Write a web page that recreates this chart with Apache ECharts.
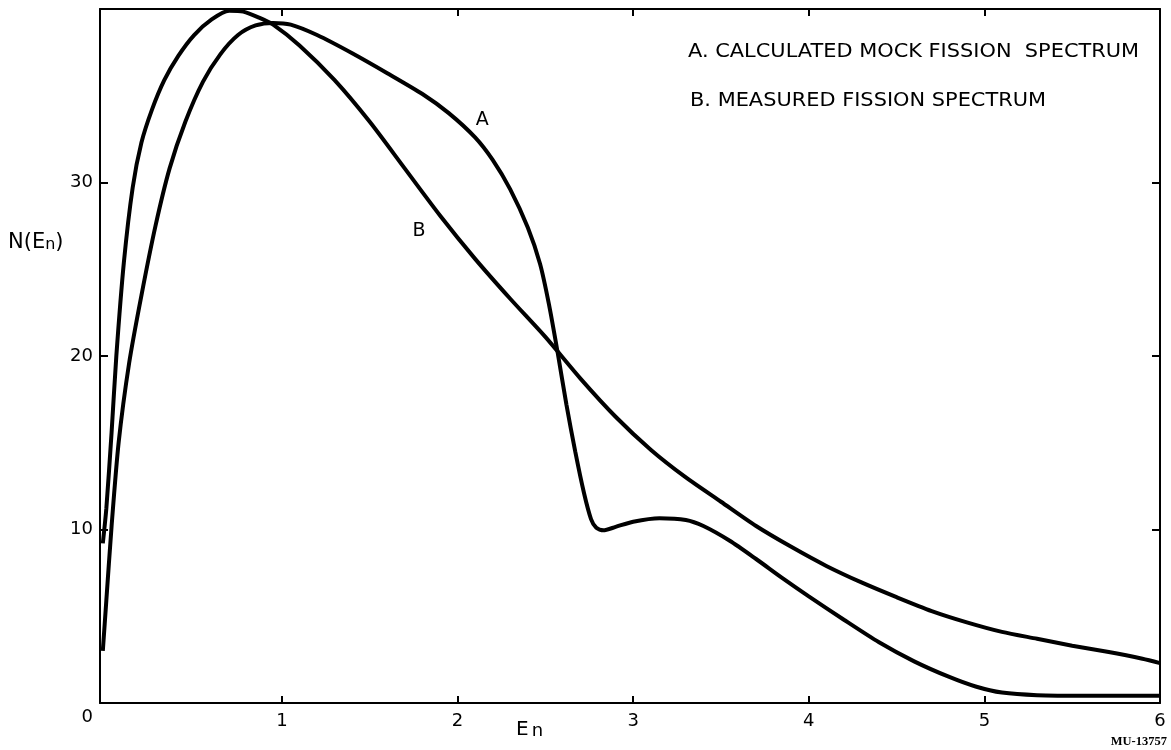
<!DOCTYPE html>
<html>
<head>
<meta charset="utf-8">
<script src="https://cdn.jsdelivr.net/npm/echarts@6/dist/echarts.min.js"></script>
<style>
  html, body { margin: 0; padding: 0; background: #fff; }
  #chart { width: 1171px; height: 750px; }
</style>
</head>
<body>
<div id="chart"></div>
<script>
// ---- Data ----
// x: neutron energy E_n, y: N(E_n)
const curveA_x = [-0.02, 0.0, 0.03, 0.07, 0.13, 0.2, 0.28, 0.36, 0.45, 0.55, 0.65, 0.75, 0.85, 0.95, 1.05, 1.2, 1.4, 1.6, 1.8, 1.95, 2.1, 2.2, 2.3, 2.4, 2.47, 2.52, 2.57, 2.62, 2.67, 2.72, 2.76, 2.79, 2.83, 2.9, 3.0, 3.15, 3.3, 3.4, 3.55, 3.7, 3.85, 4.0, 4.2, 4.4, 4.6, 4.8, 4.95, 5.1, 5.3, 5.6, 6.0];
const curveA_y = [3.0, 5.9, 10.2, 15.0, 19.6, 23.5, 27.5, 30.8, 33.5, 35.8, 37.4, 38.5, 39.05, 39.2, 39.1, 38.5, 37.45, 36.3, 35.1, 34.0, 32.6, 31.3, 29.6, 27.4, 25.3, 23.0, 20.2, 17.2, 14.5, 12.1, 10.6, 10.1, 9.95, 10.15, 10.45, 10.65, 10.55, 10.2, 9.35, 8.3, 7.2, 6.15, 4.8, 3.5, 2.4, 1.5, 0.95, 0.6, 0.45, 0.42, 0.42];

const curveB_x = [-0.02, 0.0, 0.03, 0.057, 0.1, 0.15, 0.2, 0.26, 0.33, 0.41, 0.5, 0.6, 0.7, 0.78, 0.87, 0.95, 1.1, 1.3, 1.5, 1.7, 1.9, 2.1, 2.3, 2.5, 2.7, 2.9, 3.1, 3.3, 3.5, 3.7, 3.9, 4.1, 4.3, 4.5, 4.7, 4.9, 5.1, 5.3, 5.5, 5.7, 5.9, 6.0];
const curveB_y = [9.2, 11.2, 15.6, 20.0, 25.4, 29.7, 32.3, 34.2, 35.9, 37.3, 38.5, 39.4, 39.9, 39.85, 39.5, 39.1, 37.9, 35.9, 33.5, 30.8, 28.1, 25.6, 23.3, 21.1, 18.7, 16.5, 14.6, 13.0, 11.6, 10.2, 9.0, 7.9, 6.95, 6.1, 5.3, 4.65, 4.1, 3.7, 3.3, 2.95, 2.55, 2.3];

const xTickValues = [1, 2, 3, 4, 5, 6];
const xTickLabels = [1, 2, 3, 4, 5, 6];
const yTickValues = [0, 10, 20, 30];

const legendLines = ['A. CALCULATED MOCK FISSION  SPECTRUM', 'B. MEASURED FISSION SPECTRUM'];
const curveLabels = [{ name: 'A', x: 2.14, y: 33.6 }, { name: 'B', x: 1.78, y: 27.2 }];

const zip = (xs, ys) => xs.map((x, i) => [x, ys[i]]);

const FONT = 'DejaVu Sans';
const chart = echarts.init(document.getElementById('chart'), null, { renderer: 'canvas' });

const axisLine = { show: true, onZero: false, lineStyle: { color: '#000', width: 2 } };
const tickStyle = { color: '#000', width: 2 };

chart.setOption({
  backgroundColor: '#fff',
  animation: false,
  grid: { left: 100, right: 11, top: 9, bottom: 47, containLabel: false },
  xAxis: [
    {
      type: 'value', min: -0.036, max: 6,
      axisLine: axisLine,
      axisTick: { show: true, inside: true, length: 7, lineStyle: tickStyle, customValues: xTickValues },
      axisLabel: { show: true, customValues: xTickLabels, margin: 9, color: '#000', fontFamily: FONT, fontSize: 18 },
      splitLine: { show: false }
    },
    {
      type: 'value', position: 'top', min: -0.036, max: 6,
      axisLine: axisLine,
      axisTick: { show: true, inside: true, length: 7, lineStyle: tickStyle, customValues: xTickValues },
      axisLabel: { show: false },
      splitLine: { show: false }
    }
  ],
  yAxis: [
    {
      type: 'value', min: 0, max: 40, interval: 10,
      axisLine: axisLine,
      axisTick: { show: true, inside: true, length: 8, lineStyle: tickStyle, customValues: [10, 20, 30] },
      axisLabel: {
        show: true, customValues: yTickValues, margin: 7, color: '#000', fontFamily: FONT, fontSize: 18,
        formatter: v => (v === 0 ? '{z|0}' : String(v)),
        rich: { z: { fontFamily: FONT, fontSize: 18, color: '#000', padding: [28, 0, 0, 0] } }
      },
      splitLine: { show: false }
    },
    {
      type: 'value', position: 'right', min: 0, max: 40, interval: 10,
      axisLine: axisLine,
      axisTick: { show: true, inside: true, length: 8, lineStyle: tickStyle, customValues: [10, 20, 30] },
      axisLabel: { show: false },
      splitLine: { show: false }
    }
  ],
  series: [
    {
      name: 'A', type: 'line', xAxisIndex: 0, yAxisIndex: 0,
      data: zip(curveA_x, curveA_y),
      smooth: 0.25, smoothMonotone: 'none', showSymbol: false, symbol: 'none',
      lineStyle: { color: '#000', width: 4 },
      markPoint: {
        symbol: 'circle', symbolSize: 1, itemStyle: { color: 'rgba(0,0,0,0)' },
        label: { show: true, color: '#000', fontFamily: FONT, fontSize: 19, formatter: p => p.name },
        data: [{ name: curveLabels[0].name, coord: [curveLabels[0].x, curveLabels[0].y] }]
      }
    },
    {
      name: 'B', type: 'line', xAxisIndex: 0, yAxisIndex: 0,
      data: zip(curveB_x, curveB_y),
      smooth: 0.25, smoothMonotone: 'none', showSymbol: false, symbol: 'none',
      lineStyle: { color: '#000', width: 4 },
      markPoint: {
        symbol: 'circle', symbolSize: 1, itemStyle: { color: 'rgba(0,0,0,0)' },
        label: { show: true, color: '#000', fontFamily: FONT, fontSize: 19, formatter: p => p.name },
        data: [{ name: curveLabels[1].name, coord: [curveLabels[1].x, curveLabels[1].y] }]
      }
    }
  ],
  graphic: [
    {
      type: 'text', x: 688, y: 43, scaleX: 1.1,
      style: { text: legendLines[0], fill: '#000', font: '19px "DejaVu Sans"' }
    },
    {
      type: 'text', x: 690, y: 92, scaleX: 1.1,
      style: { text: legendLines[1], fill: '#000', font: '19px "DejaVu Sans"' }
    },
    {
      type: 'text', left: 8, top: 232,
      style: {
        text: '{m|N(E}{s|n}{m|)}',
        rich: {
          m: { fontFamily: FONT, fontSize: 21, fill: '#000', verticalAlign: 'bottom' },
          s: { fontFamily: FONT, fontSize: 16, fill: '#000', padding: [10, 0, 0, 0], verticalAlign: 'bottom' }
        }
      }
    },
    {
      type: 'text', left: 516, top: 720,
      style: {
        text: '{m|E}{s|n}',
        rich: {
          m: { fontFamily: FONT, fontSize: 20, fill: '#000', verticalAlign: 'bottom' },
          s: { fontFamily: FONT, fontSize: 18, fill: '#000', padding: [12, 0, 0, 3], verticalAlign: 'bottom' }
        }
      }
    },
    {
      type: 'text', right: 4, top: 735,
      style: { text: 'MU-13757', fill: '#000', font: 'bold 12.5px "Liberation Serif"' }
    }
  ]
});
</script>
</body>
</html>
